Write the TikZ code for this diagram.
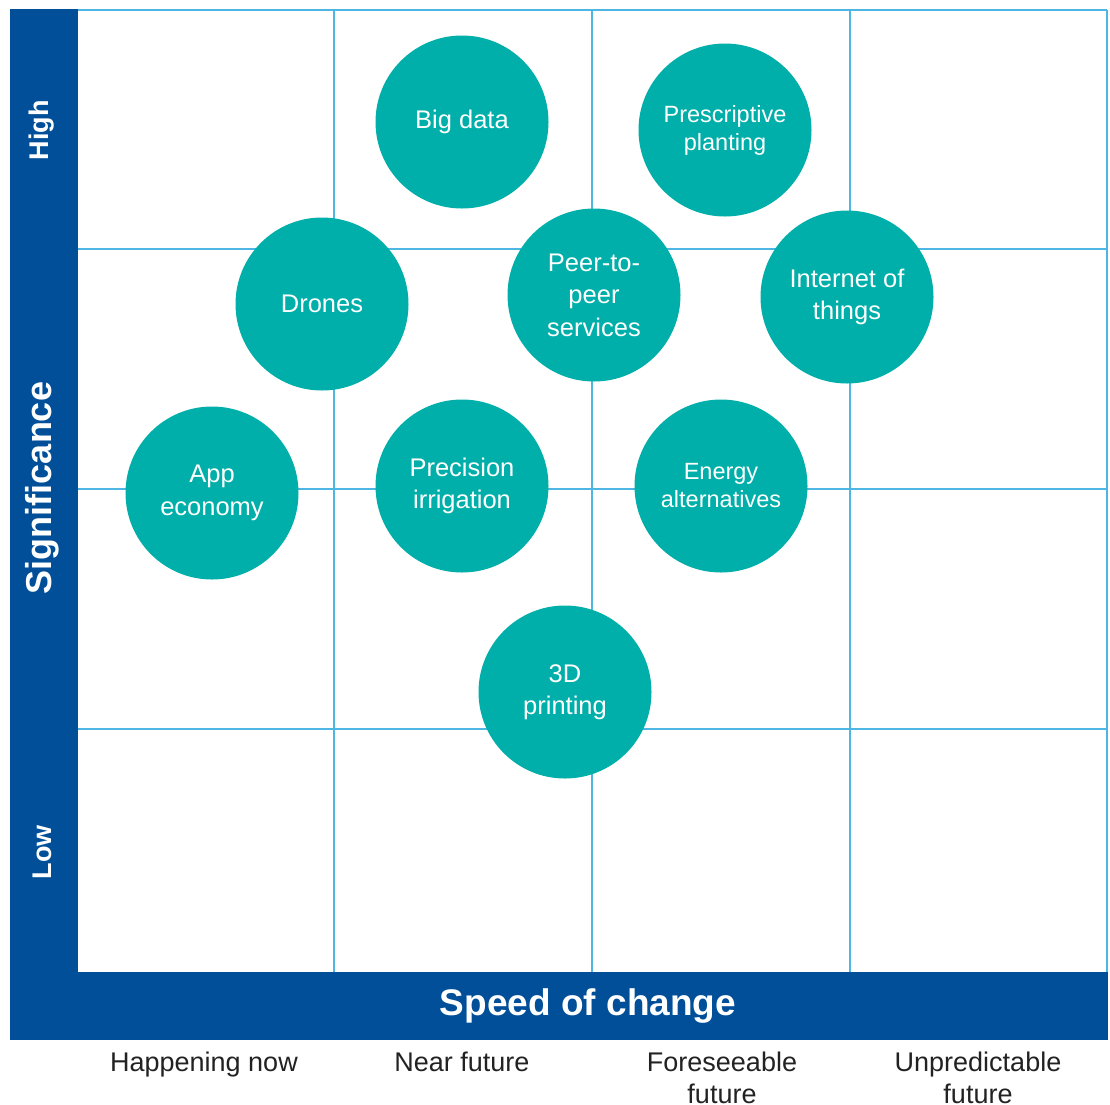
\documentclass[tikz,border=0pt]{standalone}
\usepackage{fontspec}
\setmainfont{Liberation Sans}
\definecolor{kblue}{HTML}{004F98}
\definecolor{gridblue}{HTML}{4DB6E3}
\definecolor{teal}{HTML}{00AFA9}
\definecolor{labgray}{HTML}{222222}
\begin{document}
\begin{tikzpicture}[x=1pt,y=-1pt,
  bubble/.style={circle,fill=teal,minimum size=173pt,inner sep=0pt,text=white,align=center,font=\fontsize{25.5}{32.5}\selectfont},
  smallbubble/.style={bubble,font=\fontsize{23.5}{28}\selectfont},
  axislab/.style={text=white,font=\bfseries\fontsize{27}{30}\selectfont},
  bottomlab/.style={text=labgray,align=center,font=\fontsize{27}{32}\selectfont,anchor=north},
  gridline/.style={draw=gridblue,line width=1.5pt}]
\useasboundingbox (0,0) rectangle (1110,1104);
% bars
\fill[kblue] (10,9) rectangle (78,1040);
\fill[kblue] (10,972) rectangle (1108,1040);
% grid
\foreach \x in {334,592,850,1107} \draw[gridline] (\x,10) -- (\x,972);
\foreach \y in {10,249,489,729} \draw[gridline] (78,\y) -- (1107,\y);
% axis labels
\node[axislab,rotate=90] (high) at (42,130) {High};
\node[axislab,rotate=90,font=\bfseries\fontsize{36}{40}\selectfont] (sig) at (42,488) {Significance};
\node[axislab,rotate=90] (low) at (42,852) {Low};
\node[axislab,font=\bfseries\fontsize{37}{40}\selectfont] (speed) at (588,1006) {Speed of change};
% bottom labels
\node[bottomlab] (now) at (204,1048) {Happening now};
\node[bottomlab] (near) at (462,1048) {Near future};
\node[bottomlab] (fore) at (722,1048) {Foreseeable\\future};
\node[bottomlab] (unpred) at (978,1048) {Unpredictable\\future};
% bubbles
\node[bubble] (bigdata) at (462,122) {Big data};
\node[smallbubble] (presc) at (725,130) {Prescriptive\\planting};
\node[bubble] (drones) at (322,304) {Drones};
\node[bubble] (p2p) at (594,295) {Peer-to-\\peer\\services};
\node[bubble] (iot) at (847,297) {Internet of\\things};
\node[bubble] (app) at (212,493) {App\\economy};
\node[bubble] (prec) at (462,486) {Precision\\irrigation};
\node[smallbubble] (energy) at (721,486) {Energy\\alternatives};
\node[bubble] (print) at (565,692) {3D\\printing};
\end{tikzpicture}
\end{document}
